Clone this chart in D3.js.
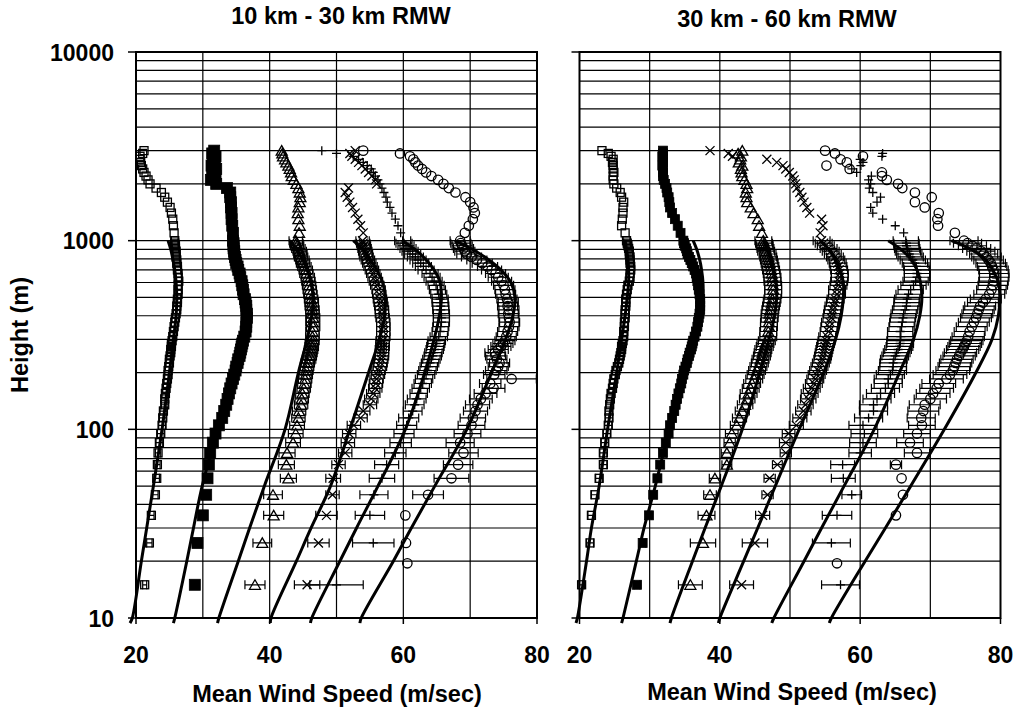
<!DOCTYPE html>
<html>
<head>
<meta charset="utf-8">
<script src="https://cdn.jsdelivr.net/npm/d3@7"></script>
<style>
  html, body { margin: 0; padding: 0; background: #fff; }
  svg text { font-family: "Liberation Sans", Arial, Helvetica, sans-serif; font-weight: bold; fill: #000; }
</style>
</head>
<body>
<svg id="chart" width="1018" height="708"></svg>
<script>
// ---- Heights of the composite profile levels (m) ----
// 10 m bins up to 300 m, 20 m to 500 m, 30 m to 1000 m, then 100 m aloft
const profileHeights = [
  15,25,35,45,55,65,75,85,95,105,
  115,125,135,145,155,165,175,185,195,205,
  215,225,235,245,255,265,275,285,295,310,
  330,350,370,390,410,430,450,470,490,520,
  550,580,610,640,670,700,730,760,790,820,
  850,880,910,940,970,1000,
  1100,1200,1300,1400,1500,1600,1700,1800,1900,2000,
  2100,2200,2300,2400,2500,2600,2700,2800,2900,3000
];
// the circle class has its lowest level a little higher than the others
const circleHeights = [19.5].concat(profileHeights.slice(1));

// ---- 10 km - 30 km from the RMW: mean wind speed (m/s) per level ----
const inSquare = [
  21.3,22.0,22.3,22.9,23.1,23.2,23.3,23.5,23.7,23.9,
  24.0,24.1,24.3,24.3,24.4,24.5,24.6,24.7,24.8,24.8,
  24.9,25.0,25.0,25.1,25.2,25.2,25.3,25.3,25.4,25.5,
  25.6,25.7,25.8,25.9,26.0,26.1,26.1,26.2,26.2,26.3,
  26.3,26.3,26.4,26.3,26.3,26.2,26.2,26.1,26.1,26.0,
  26.0,26.0,25.9,25.9,25.8,25.8,
  25.7,25.6,25.5,25.3,25.1,24.7,24.3,23.8,23.0,22.1,
  21.8,21.5,21.2,21.0,20.8,20.7,20.6,20.6,21.0,21.2
];
const inFilled = [
  28.8,29.2,30.0,30.5,30.7,30.9,31.1,31.5,31.9,32.4,
  32.9,33.2,33.5,33.7,33.9,34.1,34.3,34.5,34.7,34.9,
  35.0,35.2,35.3,35.5,35.6,35.7,35.8,35.9,36.0,36.2,
  36.4,36.5,36.5,36.6,36.6,36.5,36.5,36.4,36.3,36.1,
  36.0,35.9,35.8,35.6,35.5,35.3,35.2,35.0,34.9,34.8,
  34.7,34.7,34.6,34.6,34.6,34.5,
  34.5,34.4,34.3,34.3,34.2,34.2,34.1,34.1,33.6,32.0,
  31.2,31.9,31.4,32.0,31.3,31.8,31.5,31.9,31.4,31.7
];
const inTriangle = [
  37.8,38.9,40.6,40.5,42.8,42.5,42.6,43.5,43.9,44.1,
  44.3,44.4,44.7,44.8,44.9,45.1,45.2,45.3,45.4,45.5,
  45.6,45.7,45.9,46.0,46.1,46.2,46.3,46.3,46.4,46.4,
  46.4,46.5,46.4,46.5,46.4,46.4,46.3,46.3,46.2,46.1,
  46.0,45.9,45.8,45.7,45.5,45.4,45.2,45.0,44.9,44.7,
  44.6,44.5,44.3,44.1,44.0,43.9,
  44.4,44.5,44.3,44.2,44.3,44.5,44.6,44.5,44.3,44.0,
  43.6,43.3,43.2,43.0,42.8,42.5,42.3,42.0,41.9,41.8
];
const inCross = [
  45.6,47.3,48.5,49.4,49.5,50.3,51.3,51.7,51.9,52.6,
  53.6,54.0,55.0,55.2,55.5,55.8,55.9,56.0,56.2,56.3,
  56.5,56.6,56.7,56.8,56.8,56.8,56.9,56.9,56.9,57.0,
  57.0,57.0,57.0,56.9,56.8,56.8,56.7,56.6,56.5,56.4,
  56.3,56.1,55.9,55.7,55.5,55.3,55.1,54.9,54.7,54.5,
  54.4,54.3,54.2,54.1,54.0,53.9,
  54.0,53.6,53.2,52.8,52.4,52.0,51.6,51.3,51.8,56.0,
  55.8,55.3,54.8,54.3,53.8,53.3,52.8,52.3,52.0,52.8
];
const inPlus = [
  50.0,55.5,55.0,55.6,56.8,57.5,58.8,59.6,60.1,60.5,
  60.8,61.4,61.7,62.0,62.3,62.6,62.9,63.1,63.4,63.6,
  63.8,64.0,64.2,64.4,64.5,64.7,64.8,64.9,65.0,65.3,
  65.5,65.6,65.7,65.7,65.7,65.6,65.6,65.5,65.5,65.3,
  65.1,64.9,64.6,64.3,64.0,63.4,63.0,62.6,62.2,61.8,
  61.4,61.0,60.7,60.4,60.1,59.9,
  59.6,59.2,58.8,58.3,58.0,57.6,57.4,57.1,56.8,56.5,
  56.2,55.8,55.5,55.2,54.6,54.0,53.3,52.5,50.0,47.8
];
const inCircle = [
  60.6,60.4,60.3,63.7,67.2,68.2,69.0,68.5,69.6,70.2,
  70.4,70.8,71.1,71.6,72.3,73.5,73.0,76.2,73.6,73.9,
  74.2,74.4,74.0,73.8,73.7,74.2,74.6,74.9,75.2,75.4,
  75.6,75.8,75.9,75.8,75.7,75.8,75.6,75.7,75.5,75.3,
  75.2,75.0,74.7,74.2,73.8,73.2,72.6,71.8,71.0,70.2,
  69.5,69.2,69.0,68.8,68.6,68.5,
  69.2,69.8,70.4,70.7,70.5,70.0,69.3,67.8,66.8,66.0,
  65.2,64.2,63.4,62.8,62.2,61.8,61.5,61.0,59.5,54.0
];

// error half-widths (m/s) for the levels up to 1000 m
const inSquareErr = [
  0.3,0.4,0.4,0.4,0.4,0.4,0.4,0.5,0.5,0.5,
  0.5,0.5,0.5,0.5,0.5,0.5,0.5,0.5,0.5,0.5,
  0.5,0.5,0.5,0.5,0.5,0.5,0.5,0.5,0.5,0.5,
  0.5,0.5,0.5,0.5,0.5,0.5,0.5,0.5,0.5,0.5,
  0.5,0.5,0.5,0.5,0.5,0.5,0.5,0.5,0.5,0.5,
  0.5,0.5,0.5,0.5,0.5,0.5
];
const inFilledErr = [
  0.5,0.5,0.5,0.5,0.5,0.6,0.6,0.6,0.6,0.6,
  0.6,0.6,0.6,0.6,0.6,0.6,0.6,0.6,0.6,0.6,
  0.6,0.6,0.6,0.6,0.6,0.6,0.6,0.6,0.6,0.6,
  0.6,0.6,0.6,0.6,0.6,0.6,0.6,0.6,0.6,0.6,
  0.6,0.6,0.6,0.6,0.6,0.6,0.6,0.6,0.6,0.6,
  0.6,0.6,0.6,0.6,0.6,0.6
];
const inTriangleErr = [
  1.5,1.4,1.5,1.4,1.2,1.2,1.2,1.1,1.1,1.1,
  1.0,1.0,1.0,1.0,1.0,1.0,1.0,1.0,1.0,1.0,
  1.0,1.0,1.0,1.0,1.0,1.0,1.0,1.0,1.0,1.0,
  1.0,1.0,1.0,1.0,1.0,1.0,1.0,1.0,1.0,1.0,
  1.0,1.0,1.0,1.0,1.0,1.0,1.0,1.0,1.0,1.0,
  1.0,1.0,1.0,1.0,1.0,1.0
];
const inCrossErr = [
  1.9,1.6,1.6,1.0,1.1,1.0,1.0,1.0,1.0,1.0,
  1.0,1.0,1.0,1.0,1.0,1.0,1.0,1.0,1.0,1.0,
  1.0,1.0,1.0,1.0,1.0,1.0,1.0,1.0,1.0,1.0,
  1.0,1.0,1.0,1.0,1.0,1.0,1.0,1.0,1.0,1.0,
  1.0,1.0,1.0,1.0,1.0,1.0,1.0,1.0,1.0,1.0,
  1.0,1.0,1.0,1.0,1.0,1.0
];
const inPlusErr = [
  4.0,3.1,2.2,2.1,1.9,1.8,1.6,1.6,1.5,1.5,
  1.5,1.4,1.4,1.4,1.3,1.3,1.3,1.3,1.3,1.3,
  1.3,1.3,1.3,1.3,1.3,1.3,1.3,1.3,1.3,1.3,
  1.2,1.2,1.2,1.2,1.2,1.2,1.2,1.2,1.2,1.2,
  1.2,1.2,1.2,1.2,1.2,1.2,1.2,1.2,1.2,1.2,
  1.2,1.2,1.2,1.2,1.2,1.2
];
const inCircleErr = [
  0,0,0,2.3,2.6,2.2,2.2,2.1,2.0,2.0,
  1.9,1.8,1.8,1.7,1.7,1.7,1.6,3.7,1.6,1.6,
  1.5,1.5,1.5,1.5,1.5,1.5,1.5,1.5,1.5,1.5,
  1.5,1.5,1.5,1.5,1.5,1.5,1.5,1.5,1.5,1.5,
  1.5,1.5,1.5,1.5,1.5,1.5,1.5,1.5,1.5,1.5,
  1.5,1.5,1.5,1.5,1.5,1.5
];

// ---- 30 km - 60 km from the RMW ----
const outSquare = [
  20.3,21.5,21.7,22.2,22.8,23.4,23.4,23.6,23.9,24.1,
  24.2,24.2,24.3,24.4,24.5,24.7,24.8,24.9,25.1,25.2,
  25.4,25.6,25.7,25.8,25.9,26.0,26.0,26.1,26.2,26.3,
  26.3,26.4,26.4,26.5,26.5,26.5,26.6,26.6,26.6,26.7,
  26.8,26.9,27.1,27.2,27.2,27.3,27.3,27.2,27.2,27.2,
  27.1,27.1,27.0,26.9,26.8,26.7,
  26.5,26.0,26.1,26.2,26.2,26.3,26.0,25.8,25.3,24.9,
  24.8,24.8,24.9,24.8,24.8,24.7,24.8,24.5,24.1,23.2
];
const outFilled = [
  28.2,29.0,29.9,30.5,31.1,31.5,31.9,32.3,32.7,32.9,
  33.2,33.5,33.7,33.9,34.1,34.3,34.5,34.6,34.8,34.9,
  35.1,35.3,35.4,35.6,35.7,35.9,36.0,36.1,36.2,36.4,
  36.6,36.8,36.9,37.0,37.1,37.2,37.2,37.2,37.2,37.1,
  37.0,36.9,36.8,36.7,36.6,36.4,36.2,36.0,35.8,35.6,
  35.4,35.3,35.2,35.0,34.9,34.8,
  34.4,34.0,33.6,33.2,32.9,32.8,32.7,32.5,32.4,32.2,
  32.0,31.9,31.9,31.9,31.8,31.9,31.9,31.8,31.9,31.9
];
const outTriangle = [
  35.8,37.6,38.1,38.6,39.3,41.0,41.0,41.4,41.7,42.4,
  42.8,43.2,43.6,43.9,44.1,44.4,44.6,44.9,45.1,45.3,
  45.5,45.7,45.8,46.0,46.1,46.2,46.4,46.5,46.7,46.9,
  46.9,47.0,47.0,47.1,47.1,47.2,47.3,47.4,47.5,47.6,
  47.6,47.6,47.5,47.5,47.4,47.3,47.2,47.1,47.0,46.9,
  46.8,46.6,46.5,46.4,46.3,46.2,
  46.0,45.6,45.4,44.8,44.4,43.9,43.8,43.7,43.9,43.8,
  43.5,43.2,43.1,43.0,43.2,42.7,42.9,43.0,42.6,43.2
];
const outCross = [
  43.1,45.0,46.1,46.8,47.1,48.2,49.4,49.4,49.8,50.9,
  51.4,51.9,52.2,52.6,52.8,53.1,53.4,53.6,53.8,54.0,
  54.2,54.4,54.6,54.7,54.8,54.9,55.0,55.1,55.2,55.3,
  55.5,55.6,55.7,55.9,56.0,56.1,56.2,56.4,56.5,56.7,
  56.7,56.9,57.0,57.1,57.1,57.0,56.9,56.8,56.6,56.4,
  56.1,55.8,55.5,55.1,54.8,54.5,
  54.3,54.7,54.5,52.8,52.4,52.0,51.7,51.4,51.0,50.8,
  50.6,50.4,49.9,49.4,49.0,48.1,46.7,41.8,41.2,38.6
];
const outPlus = [
  57.2,55.9,56.7,58.8,57.6,57.5,60.0,60.4,60.6,60.4,
  61.2,61.9,61.9,62.4,62.9,63.6,64.0,64.0,64.3,64.6,
  64.7,64.7,64.8,65.0,65.2,65.4,65.6,65.7,65.7,65.8,
  65.7,65.9,66.0,66.1,66.2,66.4,66.6,66.6,66.7,66.9,
  67.2,67.6,67.9,68.1,68.1,68.1,68.0,67.8,67.5,67.2,
  67.0,66.8,66.7,66.6,66.6,66.5,
  66.2,65.0,63.2,61.8,61.5,62.4,62.9,61.8,61.3,61.5,
  61.2,61.6,59.5,58.8,60.1,60.4,60.0,63.1,63.2,null
];
const outCircle = [
  56.7,null,65.1,66.1,65.9,65.1,68.1,67.1,68.1,68.8,
  68.7,69.0,69.2,70.0,70.4,70.9,71.2,72.3,72.8,73.2,
  73.4,73.6,73.8,74.1,74.3,74.6,74.8,75.0,75.2,75.4,
  75.6,75.9,76.2,76.5,76.7,76.9,77.1,77.5,77.9,78.4,
  78.7,78.9,79.0,79.1,79.1,79.0,78.8,78.6,78.3,78.0,
  77.6,77.2,76.6,76.0,75.3,74.8,
  73.5,71.1,71.0,71.2,69.2,67.8,70.2,67.8,66.0,65.4,
  63.8,63.1,63.1,58.5,55.2,58.1,57.2,60.4,56.4,55.0
];

const outSquareErr = [
  0.4,0.5,0.5,0.5,0.5,0.5,0.5,0.5,0.5,0.5,
  0.5,0.5,0.5,0.5,0.5,0.5,0.5,0.5,0.5,0.5,
  0.5,0.5,0.5,0.5,0.5,0.5,0.5,0.5,0.5,0.5,
  0.5,0.5,0.5,0.5,0.5,0.5,0.5,0.5,0.5,0.5,
  0.5,0.5,0.5,0.5,0.5,0.5,0.5,0.5,0.5,0.5,
  0.5,0.5,0.5,0.5,0.5,0.5
];
const outFilledErr = [
  0.4,0.4,0.4,0.5,0.5,0.5,0.5,0.5,0.5,0.5,
  0.5,0.5,0.5,0.5,0.5,0.5,0.5,0.5,0.5,0.5,
  0.5,0.5,0.5,0.5,0.5,0.5,0.5,0.5,0.5,0.5,
  0.5,0.5,0.5,0.5,0.5,0.5,0.5,0.5,0.5,0.5,
  0.5,0.5,0.5,0.5,0.5,0.5,0.5,0.5,0.5,0.5,
  0.5,0.5,0.5,0.5,0.5,0.5
];
const outTriangleErr = [
  1.7,1.8,1.2,0.9,0.8,0.7,0.8,0.8,0.9,0.9,
  1.0,1.0,1.1,1.1,1.2,1.2,1.2,1.2,1.2,1.2,
  1.2,1.2,1.2,1.2,1.2,1.2,1.2,1.2,1.2,1.2,
  1.2,1.2,1.2,1.2,1.2,1.2,1.2,1.2,1.2,1.2,
  1.2,1.2,1.2,1.2,1.2,1.2,1.2,1.2,1.2,1.2,
  1.2,1.2,1.2,1.2,1.2,1.2
];
const outCrossErr = [
  1.7,1.8,1.0,0.8,0.8,0.7,0.8,0.9,0.9,1.0,
  1.0,1.1,1.1,1.1,1.2,1.2,1.2,1.2,1.2,1.2,
  1.2,1.2,1.2,1.2,1.2,1.2,1.2,1.2,1.2,1.2,
  1.2,1.2,1.2,1.2,1.2,1.2,1.2,1.2,1.2,1.2,
  1.2,1.2,1.2,1.2,1.2,1.2,1.2,1.2,1.2,1.2,
  1.2,1.2,1.2,1.2,1.2,1.2
];
const outPlusErr = [
  2.7,2.7,2.1,1.4,1.7,1.7,1.6,1.9,1.9,2.0,
  2.0,2.0,2.0,2.0,2.0,2.0,2.0,2.0,2.0,2.0,
  1.9,1.9,1.9,1.9,1.9,1.9,1.9,1.9,1.9,1.9,
  1.8,1.8,1.8,1.8,1.8,1.8,1.8,1.8,1.8,1.8,
  1.8,1.8,1.8,1.8,1.8,1.8,1.8,1.8,1.8,1.8,
  1.8,1.8,1.8,1.8,1.8,1.8
];
const outCircleErr = [
  0,0,0,0,0,0.8,1.8,1.9,1.9,1.9,
  2.0,2.2,2.2,2.3,2.4,2.4,2.4,2.4,2.4,2.4,
  2.3,2.3,2.3,2.3,2.3,2.3,2.3,2.3,2.3,2.3,
  2.2,2.2,2.2,2.2,2.2,2.2,2.2,2.2,2.2,2.2,
  2.1,2.1,2.1,2.1,2.1,2.1,2.1,2.1,2.1,2.1,
  2.0,2.0,2.0,2.0,2.0,2.0
];

// ---- fitted boundary-layer profiles (m/s) at these heights (m) ----
const fitHeights = [9.4,10,20,30,50,100,200,300,400,500,600,700,800,900,1000];
const inFit1 = [19.1,19.45,20.8,21.6,22.6,23.9,25.0,25.6,26.0,26.1,26.0,25.8,25.5,25.2,24.8];
const inFit2 = [25.6,25.8,27.6,28.6,29.9,32.2,34.6,35.8,36.3,36.4,36.2,35.9,35.5,35.0,34.5];
const inFit3 = [32.2,32.4,35.3,37.0,39.2,42.3,44.3,45.6,46.3,46.5,46.2,45.6,44.9,44.0,43.0];
const inFit4 = [40.1,40.2,44.0,46.2,49.1,52.0,54.8,56.4,57.2,57.3,56.9,56.0,55.0,53.9,52.5];
const inFit5 = [46.1,46.3,50.5,53.0,56.2,60.3,63.2,64.6,65.4,65.7,65.5,64.6,63.3,61.7,59.8];
const inFit6 = [53.5,53.7,58.5,61.2,64.7,69.5,73.2,75.3,76.4,76.7,76.1,74.6,72.6,70.3,67.7];
const outFit1 = [19.5,19.7,21.0,21.7,22.8,24.0,25.3,26.0,26.5,26.8,27.0,27.0,26.9,26.7,26.5];
const outFit2 = [26.0,26.2,28.1,29.2,30.8,32.8,35.2,36.6,37.4,37.6,37.6,37.4,37.1,36.7,36.2];
const outFit3 = [32.9,33.1,36.1,37.9,40.2,43.2,45.7,47.0,47.8,48.1,48.0,47.6,47.2,46.7,46.2];
const outFit4 = [39.8,40.0,43.4,45.4,47.9,51.3,54.8,56.5,57.3,57.6,57.6,57.1,56.4,55.5,54.3];
const outFit5 = [47.4,47.7,52.0,54.5,57.7,62.0,65.6,67.6,68.5,68.8,68.6,68.1,67.2,65.8,64.0];
const outFit6 = [55.6,55.9,60.7,63.6,67.2,72.0,76.5,78.8,79.7,79.9,79.7,78.9,77.8,75.8,73.0];

// ---- axes ----
const speedTicks = [20, 40, 60, 80];
const speedGrid = [30, 40, 50, 60, 70];
const heightTicks = [10, 100, 1000, 10000];
const heightGrid = [];
[10, 100, 1000].forEach(d => { for (let k = 2; k <= 9; k++) heightGrid.push(d * k); });

const panelTitles = ["10 km - 30 km RMW", "30 km - 60 km RMW"];
const xAxisTitle = "Mean Wind Speed (m/sec)";
const yAxisTitle = "Height (m)";

// ---- drawing ----
const svg = d3.select("#chart");
const y = d3.scaleLog().domain([10, 10000]).range([618, 52]);

const panels = [
  { x0: 136, x1: 537, title: panelTitles[0], tx: 341, ty: 24, xtx: 337, xty: 702, yLabels: true,
    series: [
      { v: inSquare, e: inSquareErr, h: profileHeights, m: "square" },
      { v: inFilled, e: inFilledErr, h: profileHeights, m: "filled", size: 11 },
      { v: inTriangle, e: inTriangleErr, h: profileHeights, m: "triangle" },
      { v: inCross, e: inCrossErr, h: profileHeights, m: "cross" },
      { v: inPlus, e: inPlusErr, h: profileHeights, m: "plus" },
      { v: inCircle, e: inCircleErr, h: circleHeights, m: "circle" }
    ],
    fits: [inFit1, inFit2, inFit3, inFit4, inFit5, inFit6] },
  { x0: 579.5, x1: 1000.5, title: panelTitles[1], tx: 787, ty: 27, xtx: 792, xty: 700, yLabels: false,
    series: [
      { v: outSquare, e: outSquareErr, h: profileHeights, m: "square" },
      { v: outFilled, e: outFilledErr, h: profileHeights, m: "filled", size: 9 },
      { v: outTriangle, e: outTriangleErr, h: profileHeights, m: "triangle" },
      { v: outCross, e: outCrossErr, h: profileHeights, m: "cross" },
      { v: outPlus, e: outPlusErr, h: profileHeights, m: "plus" },
      { v: outCircle, e: outCircleErr, h: circleHeights, m: "circle" }
    ],
    fits: [outFit1, outFit2, outFit3, outFit4, outFit5, outFit6] }
];

function drawMarker(g, kind, cx, cy, size) {
  const sw = 1.3;
  if (kind === "square") {
    g.append("rect").attr("x", cx - 4).attr("y", cy - 4).attr("width", 8).attr("height", 8)
      .attr("fill", "none").attr("stroke", "#000").attr("stroke-width", sw);
  } else if (kind === "filled") {
    const s = size || 9;
    g.append("rect").attr("x", cx - s / 2).attr("y", cy - s / 2).attr("width", s).attr("height", s)
      .attr("fill", "#000").attr("stroke", "#000").attr("stroke-width", 0.8);
  } else if (kind === "triangle") {
    g.append("path").attr("d", `M${cx},${cy - 5}L${cx + 5.5},${cy + 4.5}L${cx - 5.5},${cy + 4.5}Z`)
      .attr("fill", "none").attr("stroke", "#000").attr("stroke-width", sw);
  } else if (kind === "cross") {
    g.append("path").attr("d", `M${cx - 4.5},${cy - 4.5}L${cx + 4.5},${cy + 4.5}M${cx - 4.5},${cy + 4.5}L${cx + 4.5},${cy - 4.5}`)
      .attr("fill", "none").attr("stroke", "#000").attr("stroke-width", sw);
  } else if (kind === "plus") {
    g.append("path").attr("d", `M${cx - 4.5},${cy}L${cx + 4.5},${cy}M${cx},${cy - 4.5}L${cx},${cy + 4.5}`)
      .attr("fill", "none").attr("stroke", "#000").attr("stroke-width", sw);
  } else if (kind === "circle") {
    g.append("circle").attr("cx", cx).attr("cy", cy).attr("r", 4.7)
      .attr("fill", "none").attr("stroke", "#000").attr("stroke-width", sw);
  }
}

panels.forEach(p => {
  const x = d3.scaleLinear().domain([20, 80]).range([p.x0, p.x1]);
  const g = svg.append("g");

  // grid
  const grid = g.append("g").attr("stroke", "#000").attr("stroke-width", 1.2);
  heightGrid.concat([100, 1000]).forEach(h => {
    grid.append("line").attr("x1", p.x0).attr("x2", p.x1).attr("y1", y(h)).attr("y2", y(h));
  });
  speedGrid.forEach(v => {
    grid.append("line").attr("x1", x(v)).attr("x2", x(v)).attr("y1", y(10)).attr("y2", y(10000));
  });

  // observed profiles with error bars
  const marks = g.append("g");
  p.series.forEach(s => {
    s.v.forEach((val, i) => {
      if (val == null) return;
      const cx = x(val), cy = y(s.h[i]);
      const err = i < s.e.length ? s.e[i] : 0;
      if (err > 0) {
        const xl = x(val - err), xr = x(val + err);
        marks.append("path")
          .attr("d", `M${xl},${cy}L${xr},${cy}M${xl},${cy - 4.5}L${xl},${cy + 4.5}M${xr},${cy - 4.5}L${xr},${cy + 4.5}`)
          .attr("fill", "none").attr("stroke", "#000").attr("stroke-width", 1.2);
      }
      drawMarker(marks, s.m, cx, cy, s.size);
    });
  });

  // fitted profiles
  const line = d3.line()
    .x(d => x(d[1]))
    .y(d => y(d[0]))
    .curve(d3.curveCatmullRom.alpha(0.5));
  p.fits.forEach(f => {
    g.append("path").datum(fitHeights.map((h, i) => [h, f[i]]))
      .attr("d", line).attr("fill", "none").attr("stroke", "#000").attr("stroke-width", 3);
  });

  // frame and ticks
  g.append("rect").attr("x", p.x0).attr("y", y(10000)).attr("width", p.x1 - p.x0).attr("height", y(10) - y(10000))
    .attr("fill", "none").attr("stroke", "#000").attr("stroke-width", 2);
  heightTicks.forEach(h => {
    g.append("line").attr("x1", p.x0 - 8).attr("x2", p.x0).attr("y1", y(h)).attr("y2", y(h))
      .attr("stroke", "#000").attr("stroke-width", 1.5);
  });
  speedTicks.forEach(v => {
    g.append("line").attr("x1", x(v)).attr("x2", x(v)).attr("y1", y(10)).attr("y2", y(10) + 6)
      .attr("stroke", "#000").attr("stroke-width", 1.5);
    g.append("text").attr("x", x(v)).attr("y", 663).attr("text-anchor", "middle")
      .style("font-size", "23px").text(v);
  });
  if (p.yLabels) {
    heightTicks.forEach(h => {
      g.append("text").attr("x", 114).attr("y", y(h) + 8.5).attr("text-anchor", "end")
        .style("font-size", "23px").text(h);
    });
    g.append("text").attr("transform", "translate(28,335) rotate(-90)").attr("text-anchor", "middle")
      .style("font-size", "23.5px").text(yAxisTitle);
  }

  // titles
  g.append("text").attr("x", p.tx).attr("y", p.ty).attr("text-anchor", "middle")
    .style("font-size", "23.5px").text(p.title);
  g.append("text").attr("x", p.xtx).attr("y", p.xty).attr("text-anchor", "middle")
    .style("font-size", "23.5px").text(xAxisTitle);
});
</script>
</body>
</html>
